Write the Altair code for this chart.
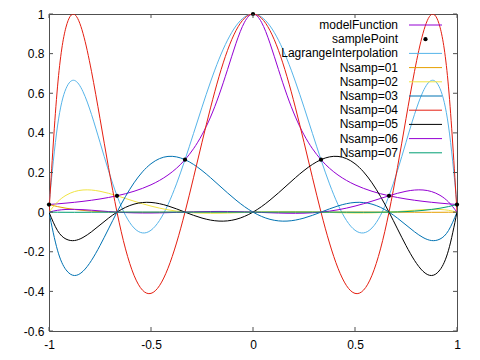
import altair as alt
import pandas as pd

# x grid (k/24, k = -24..24)
X = [-1, -0.95833, -0.91667, -0.875, -0.83333, -0.79167, -0.75, -0.70833,
     -0.66667, -0.625, -0.58333, -0.54167, -0.5, -0.45833, -0.41667, -0.375,
     -0.33333, -0.29167, -0.25, -0.20833, -0.16667, -0.125, -0.08333, -0.04167,
     0,
     0.04167, 0.08333, 0.125, 0.16667, 0.20833, 0.25, 0.29167, 0.33333,
     0.375, 0.41667, 0.45833, 0.5, 0.54167, 0.58333, 0.625, 0.66667,
     0.70833, 0.75, 0.79167, 0.83333, 0.875, 0.91667, 0.95833, 1]

MODEL = [0.03846, 0.04174, 0.04544, 0.04965, 0.05446, 0.05999, 0.06639, 0.07384,
         0.08257, 0.09289, 0.10519, 0.11997, 0.13793, 0.15996, 0.18726, 0.22145,
         0.26471, 0.31983, 0.39024, 0.47960, 0.59016, 0.71910, 0.85207, 0.95840,
         1.0,
         0.95840, 0.85207, 0.71910, 0.59016, 0.47960, 0.39024, 0.31983, 0.26471,
         0.22145, 0.18726, 0.15996, 0.13793, 0.11997, 0.10519, 0.09289, 0.08257,
         0.07384, 0.06639, 0.05999, 0.05446, 0.04965, 0.04544, 0.04174, 0.03846]

LAGRANGE = [0.03846, 0.43471, 0.62345, 0.66468, 0.60788, 0.49317, 0.35228, 0.20949,
            0.08257, -0.01634, -0.07991, -0.10490, -0.09141, -0.04219, 0.03792, 0.14266,
            0.26471, 0.39632, 0.52965, 0.65715, 0.77189, 0.86781, 0.94000, 0.98482,
            1.0,
            0.98482, 0.94000, 0.86781, 0.77189, 0.65715, 0.52965, 0.39632, 0.26471,
            0.14266, 0.03792, -0.04219, -0.09141, -0.10490, -0.07991, -0.01634, 0.08257,
            0.20949, 0.35228, 0.49317, 0.60788, 0.66468, 0.62345, 0.43471, 0.03846]

N1 = [0.03846, 0.02796, 0.01975, 0.01343, 0.00868, 0.00519, 0.00272, 0.00105,
      0, -0.00060, -0.00086, -0.00090, -0.00079, -0.00060, -0.00039, -0.00018,
      0, 0.00014, 0.00023, 0.00027, 0.00026, 0.00022, 0.00016, 0.00008,
      0,
      -0.00008, -0.00014, -0.00017, -0.00019, -0.00017, -0.00014, -0.00008, 0,
      0.00008, 0.00016, 0.00022, 0.00026, 0.00027, 0.00023, 0.00014, 0,
      -0.00018, -0.00039, -0.00060, -0.00079, -0.00090, -0.00086, -0.00060, 0]

N2 = [0, 0.05146, 0.08479, 0.10380, 0.11176, 0.11146, 0.10525, 0.09509,
      0.08257, 0.06897, 0.05530, 0.04229, 0.03048, 0.02022, 0.01169, 0.00497,
      0, -0.00334, -0.00524, -0.00592, -0.00564, -0.00467, -0.00324, -0.00162,
      0,
      0.00143, 0.00252, 0.00319, 0.00339, 0.00310, 0.00238, 0.00131, 0,
      -0.00139, -0.00270, -0.00374, -0.00435, -0.00437, -0.00369, -0.00222, 0,
      0.00288, 0.00619, 0.00955, 0.01242, 0.01403, 0.01339, 0.00924, 0]

N3 = [0, -0.19246, -0.29124, -0.31997, -0.29857, -0.24363, -0.16871, -0.08468,
      0, 0.07897, 0.14773, 0.20336, 0.24429, 0.27007, 0.28118, 0.27882,
      0.26471, 0.24096, 0.20993, 0.17404, 0.13571, 0.09722, 0.06065, 0.02776,
      0,
      -0.02159, -0.03639, -0.04419, -0.04524, -0.04016, -0.02999, -0.01606, 0,
      0.01640, 0.03124, 0.04264, 0.04886, 0.04842, 0.04029, 0.02403, 0,
      -0.03048, -0.06489, -0.09926, -0.12796, -0.14343, -0.13591, -0.09312, 0]

N4 = [0, 0.63222, 0.93353, 0.99771, 0.90234, 0.71046, 0.47211, 0.22581,
      0, -0.18563, -0.31891, -0.39397, -0.41016, -0.37100, -0.28326, -0.15604,
      0, 0.17339, 0.35248, 0.52600, 0.68359, 0.81621, 0.91644, 0.97883,
      1.0,
      0.97883, 0.91644, 0.81621, 0.68359, 0.52600, 0.35248, 0.17339, 0,
      -0.15604, -0.28326, -0.37100, -0.41016, -0.39397, -0.31891, -0.18563, 0,
      0.22581, 0.47211, 0.71046, 0.90234, 0.99771, 0.93353, 0.63222, 0]

N5 = [0, -0.09312, -0.13591, -0.14343, -0.12796, -0.09926, -0.06489, -0.03048,
      0, 0.02403, 0.04029, 0.04842, 0.04886, 0.04264, 0.03124, 0.01640,
      0, -0.01606, -0.02999, -0.04016, -0.04524, -0.04419, -0.03639, -0.02159,
      0,
      0.02776, 0.06065, 0.09722, 0.13571, 0.17404, 0.20993, 0.24096, 0.26471,
      0.27882, 0.28118, 0.27007, 0.24429, 0.20336, 0.14773, 0.07897, 0,
      -0.08468, -0.16871, -0.24363, -0.29857, -0.31997, -0.29124, -0.19246, 0]

N6 = [0, 0.00924, 0.01339, 0.01403, 0.01242, 0.00955, 0.00619, 0.00288,
      0, -0.00222, -0.00369, -0.00437, -0.00435, -0.00374, -0.00270, -0.00139,
      0, 0.00131, 0.00238, 0.00310, 0.00339, 0.00319, 0.00252, 0.00143,
      0,
      -0.00162, -0.00324, -0.00467, -0.00564, -0.00592, -0.00524, -0.00334, 0,
      0.00497, 0.01169, 0.02022, 0.03048, 0.04229, 0.05530, 0.06897, 0.08257,
      0.09509, 0.10525, 0.11146, 0.11176, 0.10380, 0.08479, 0.05146, 0]

N7 = [0, -0.00060, -0.00086, -0.00090, -0.00079, -0.00060, -0.00039, -0.00018,
      0, 0.00014, 0.00023, 0.00027, 0.00026, 0.00022, 0.00016, 0.00008,
      0, -0.00008, -0.00014, -0.00017, -0.00019, -0.00017, -0.00014, -0.00008,
      0,
      0.00008, 0.00016, 0.00022, 0.00026, 0.00027, 0.00023, 0.00014, 0,
      -0.00018, -0.00039, -0.00060, -0.00079, -0.00090, -0.00086, -0.00060, 0,
      0.00105, 0.00272, 0.00519, 0.00868, 0.01343, 0.01975, 0.02796, 0.03846]

SAMPLE_X = [-1, -0.66667, -0.33333, 0, 0.33333, 0.66667, 1]
SAMPLE_Y = [0.03846, 0.08257, 0.26471, 1.0, 0.26471, 0.08257, 0.03846]

X_TICKS = [-1, -0.5, 0, 0.5, 1]
Y_TICKS = [-0.6, -0.4, -0.2, 0, 0.2, 0.4, 0.6, 0.8, 1]

SERIES = [
    ("modelFunction", MODEL, "#9400d3"),
    ("LagrangeInterpolation", LAGRANGE, "#56b4e9"),
    ("Nsamp=01", N1, "#e69f00"),
    ("Nsamp=02", N2, "#f0e442"),
    ("Nsamp=03", N3, "#0072b2"),
    ("Nsamp=04", N4, "#e51e10"),
    ("Nsamp=05", N5, "#000000"),
    ("Nsamp=06", N6, "#9400d3"),
    ("Nsamp=07", N7, "#009e73"),
]
LEGEND = [
    ("modelFunction", "#9400d3", "line"),
    ("samplePoint", "#000000", "point"),
    ("LagrangeInterpolation", "#56b4e9", "line"),
    ("Nsamp=01", "#e69f00", "line"),
    ("Nsamp=02", "#f0e442", "line"),
    ("Nsamp=03", "#0072b2", "line"),
    ("Nsamp=04", "#e51e10", "line"),
    ("Nsamp=05", "#000000", "line"),
    ("Nsamp=06", "#9400d3", "line"),
    ("Nsamp=07", "#009e73", "line"),
]

FONT = "Liberation Sans"
BORDER = "#505050"
W, H = 408, 317
XMIN, XMAX, YMIN, YMAX = -1.0, 1.0, -0.6, 1.0
PX = W / (XMAX - XMIN)
PY = H / (YMAX - YMIN)

xscale = alt.Scale(domain=[XMIN, XMAX], nice=False, zero=False)
yscale = alt.Scale(domain=[YMIN, YMAX], nice=False, zero=False)
common_axis = dict(ticks=False, domain=False, grid=False, title=None,
                   labelFont=FONT, labelFontSize=12, labelColor="black",
                   labelOverlap=False, labelFlush=False,
                   labelExpr="'' + datum.value")
xaxis = alt.Axis(values=X_TICKS, labelPadding=8, **common_axis)
yaxis = alt.Axis(values=Y_TICKS, labelPadding=5, **common_axis)


def xy():
    return dict(x=alt.X("x:Q", scale=xscale, axis=xaxis),
                y=alt.Y("y:Q", scale=yscale, axis=yaxis))


layers = []
for name, ys, color in SERIES:
    df = pd.DataFrame({"x": X, "y": ys})
    layers.append(
        alt.Chart(df).mark_line(color=color, strokeWidth=1, interpolate="natural",
                                clip=True).encode(**xy())
    )

pts = pd.DataFrame({"x": SAMPLE_X, "y": SAMPLE_Y})
layers.append(alt.Chart(pts).mark_point(filled=True, color="black", size=18,
                                        opacity=1).encode(**xy()))

# inward ticks on all four sides (gnuplot style)
TL = 4
trows = []
for v in X_TICKS:
    trows.append(dict(x=v, y=YMIN, x2=v, y2=YMIN + TL / PY))
    trows.append(dict(x=v, y=YMAX, x2=v, y2=YMAX - TL / PY))
for v in Y_TICKS:
    trows.append(dict(x=XMIN, y=v, x2=XMIN + TL / PX, y2=v))
    trows.append(dict(x=XMAX, y=v, x2=XMAX - TL / PX, y2=v))
ticks = pd.DataFrame(trows)
layers.append(alt.Chart(ticks).mark_rule(color=BORDER, strokeWidth=1).encode(
    x2="x2:Q", y2="y2:Q", **xy()))

# legend (top-right, labels left of samples)
row0, step = 11, 14.2
text_x = XMIN + 349 / PX
l_x1, l_x2 = XMIN + 360 / PX, XMIN + 393 / PX
lrows = []
for i, (lab, col, kind) in enumerate(LEGEND):
    yy = YMAX - (row0 + i * step) / PY
    lrows.append(dict(label=lab, color=col, kind=kind, y=yy, tx=text_x,
                      x=l_x1, x2=l_x2, px=(l_x1 + l_x2) / 2))
leg = pd.DataFrame(lrows)

layers.append(alt.Chart(leg).mark_text(align="right", baseline="middle", font=FONT,
                                       fontSize=12, color="black").encode(
    x=alt.X("tx:Q", scale=xscale, axis=xaxis),
    y=alt.Y("y:Q", scale=yscale, axis=yaxis),
    text="label:N"))
layers.append(alt.Chart(leg[leg.kind == "line"]).mark_rule(strokeWidth=1).encode(
    x2="x2:Q", color=alt.Color("color:N", scale=None), **xy()))
layers.append(alt.Chart(leg[leg.kind == "point"]).mark_point(
    filled=True, size=18, opacity=1, color="black").encode(
    x=alt.X("px:Q", scale=xscale, axis=xaxis),
    y=alt.Y("y:Q", scale=yscale, axis=yaxis)))

chart = alt.layer(*layers).properties(
    width=W, height=H,
    padding={"left": 41, "top": 6, "right": 15, "bottom": 20},
    autosize=alt.AutoSizeParams(type="none"),
    background="white",
).configure_view(stroke=BORDER, strokeWidth=1)

chart.save("out.html", embed_options={"renderer": "svg", "actions": False})
